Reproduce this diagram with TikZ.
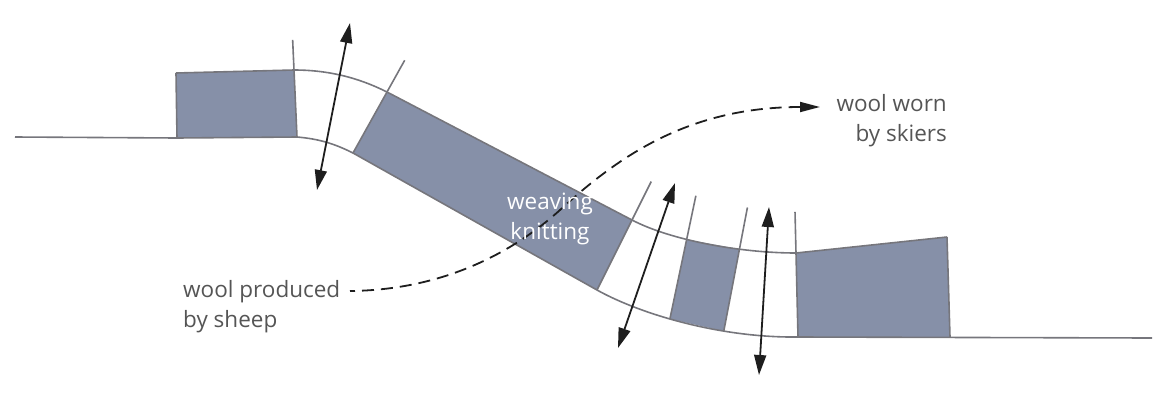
\documentclass[tikz,border=0pt]{standalone}
\usepackage{fontspec}
\setmainfont{Open Sans}
\usetikzlibrary{arrows.meta,calc}
\definecolor{slabfill}{RGB}{134,144,168}
\definecolor{edgegray}{RGB}{118,118,124}
\definecolor{txtgray}{RGB}{85,85,85}
\definecolor{ink}{RGB}{30,30,30}
\begin{document}
\begin{tikzpicture}[x=1pt,y=-1pt,
  outline/.style={draw=edgegray, line width=1.6pt, line join=round},
  blockfill/.style={fill=slabfill},
  stretch/.style={draw=ink, line width=1.8pt, {Triangle[length=20pt,width=12pt]}-{Triangle[length=20pt,width=12pt]}},
  flow/.style={draw=ink, line width=1.8pt, dash pattern=on 12pt off 7pt, dash phase=7pt, -{Triangle[length=20pt,width=10pt]}},
  txtlabel/.style={font=\fontsize{22.5}{30}\selectfont, text=txtgray, inner sep=0pt}]
\useasboundingbox (0,0) rectangle (1165,405);
% key points
\coordinate (L0) at (15,137);
\coordinate (A1) at (176,73);
\coordinate (A2) at (294,70);
\coordinate (A3) at (297,137);
\coordinate (A4) at (177,138);
\coordinate (S1) at (387,92);
\coordinate (S2) at (632,220);
\coordinate (S3) at (597,290);
\coordinate (S4) at (353,153);
\coordinate (R1) at (796,253);
\coordinate (R2) at (947,237);
\coordinate (R3) at (950,337);
\coordinate (R4) at (798,337);
\coordinate (L1) at (1152,338);
\path (S2) .. controls (670,240) and (740,253) .. coordinate[pos=0.38] (B1) coordinate[pos=0.68] (B2) (R1);
\path (S3) .. controls (640,314) and (720,338) .. coordinate[pos=0.43] (B4) coordinate[pos=0.68] (B3) (R4);
% fills
\fill[blockfill] (A1) -- (A2) -- (A3) -- (A4) -- cycle;
\fill[blockfill] (S1) -- (S2) -- (S3) -- (S4) -- cycle;
\fill[blockfill] (B1) -- (B2) -- (B3) -- (B4) -- cycle;
\fill[blockfill] (R1) -- (R2) -- (R3) -- (R4) -- cycle;
% outlines
\draw[outline] (A1) -- (A2) .. controls (335,70) and (365,81) .. (S1) -- (S2)
  .. controls (670,240) and (740,253) .. (R1) -- (R2);
\draw[outline] (L0) -- (A4) -- (A3) .. controls (320,139) and (335,144) .. (S4) -- (S3)
  .. controls (640,314) and (720,338) .. (R4) -- (L1);
\draw[outline] (A1) -- (A4);
\draw[outline] (A3) -- ($(A3)!1.45!(A2)$);
\draw[outline] (S4) -- ($(S4)!1.52!(S1)$);
\draw[outline] (S3) -- ($(S3)!1.55!(S2)$);
\draw[outline] (B4) -- ($(B4)!1.55!(B1)$);
\draw[outline] (B3) -- ($(B3)!1.51!(B2)$);
\draw[outline] (R4) -- ($(R4)!1.49!(R1)$);
\draw[outline] (R2) -- (R3);
% stretch arrows
\coordinate (a1t) at (350,23);
\coordinate (a1b) at (317,190);
\coordinate (a2t) at (675,183);
\coordinate (a2b) at (618,348);
\coordinate (a3t) at (769,207);
\coordinate (a3b) at (759,375);
\draw[stretch] (a1b) -- (a1t);
\draw[stretch] (a2b) -- (a2t);
\draw[stretch] (a3b) -- (a3t);
% flow
\coordinate (fs) at (350,291);
\coordinate (fm) at (560,210);
\coordinate (fe) at (820,107);
\draw[flow] (fs) .. controls (440,290) and (510,255) .. (fm) .. controls (620,155) and (690,107) .. (fe);
% labels
\node[txtlabel, align=left, anchor=west] (src) at (183,307) {wool produced\\by sheep};
\node[txtlabel, align=right, anchor=east] (dst) at (947,121) {wool worn\\by skiers};
\node[txtlabel, align=center, text=white] (proc) at (550,219) {weaving\\knitting};
\end{tikzpicture}
\end{document}
